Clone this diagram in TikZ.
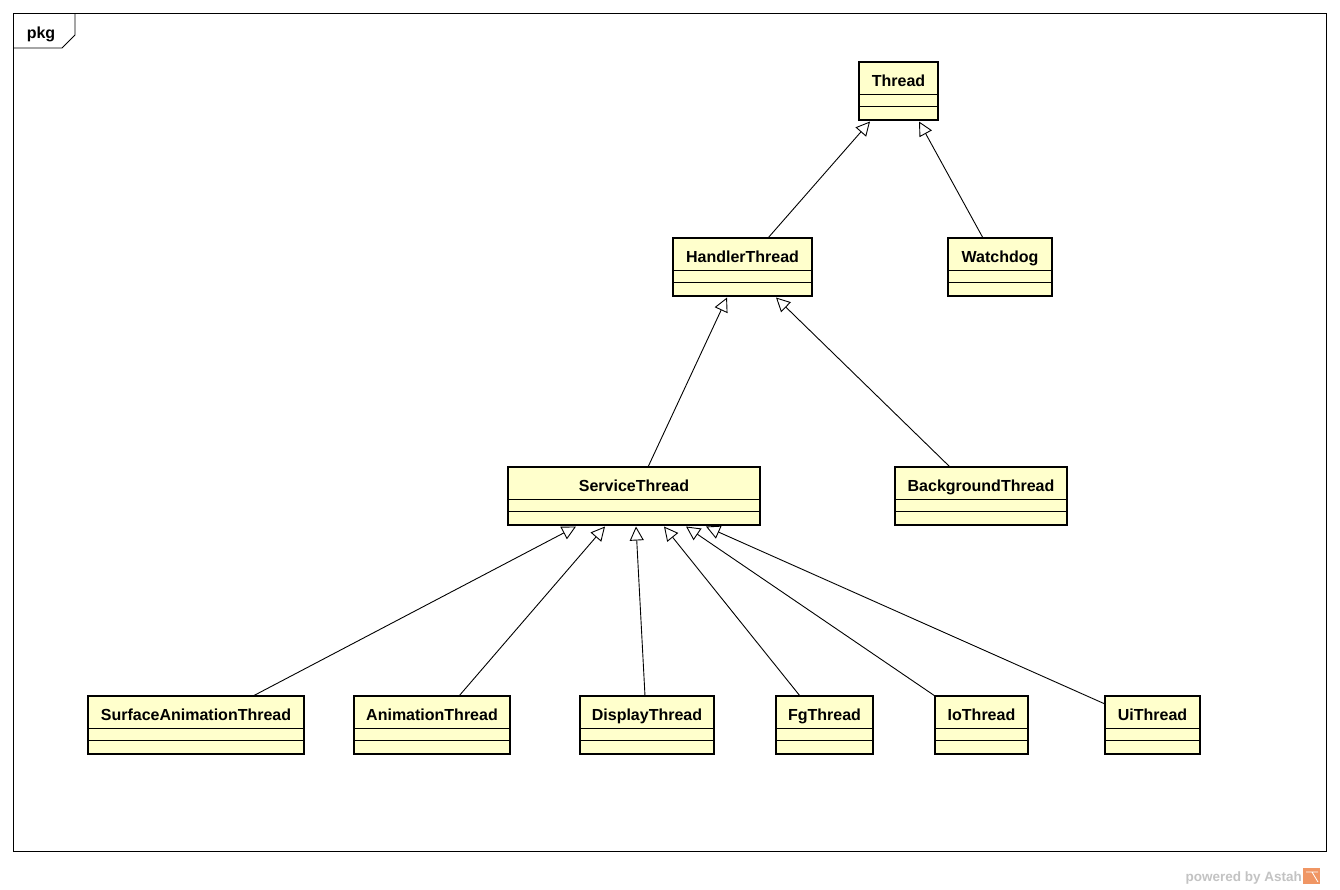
\documentclass[tikz,border=0pt]{standalone}
\usepackage{fontspec}
\setmainfont{Liberation Sans}
\usetikzlibrary{arrows.meta}
\definecolor{classfill}{RGB}{255,255,204}
\definecolor{astahgray}{RGB}{195,195,195}
\definecolor{astahorange}{RGB}{240,150,100}
\tikzset{
  cls/.style={draw=black, line width=2.8pt, fill=classfill, inner sep=0pt},
  gen/.style={draw=black, line width=0.9pt, -{Triangle[open, length=14pt, width=14pt, fill=white]}},
  lbl/.style={font=\fontsize{16}{19}\selectfont\bfseries, anchor=base, inner sep=0pt},
}
\newcommand{\umlclass}[6]{% name, text, x1, y1, x2, y2
  \draw[cls] (#3,#4) rectangle (#5,#6);
  \node[lbl] (#1) at ({(#3+#5)/2},{#4+24}) {#2};
  \draw[line width=0.9pt] (#3,{#4+32}) -- (#5,{#4+32});
  \draw[line width=0.9pt] (#3,{#4+44}) -- (#5,{#4+44});
}
\begin{document}
\begin{tikzpicture}[x=1pt,y=-1pt]
\useasboundingbox (0,0) rectangle (1340,889);
\fill[white] (0,0) rectangle (1340,889);
% frame
\draw[line width=0.9pt] (13,13) rectangle (1326,851);
\draw[line width=0.9pt] (13,48) -- (62,48) -- (75,35) -- (75,13);
\node[font=\fontsize{16}{19}\selectfont\bfseries, anchor=base, inner sep=0pt] (pkg) at (41,38) {pkg};

\umlclass{thread}{Thread}{859}{62}{938}{120}
\umlclass{handler}{HandlerThread}{673}{238}{812}{296}
\umlclass{watchdog}{Watchdog}{948}{238}{1052}{296}
\umlclass{service}{ServiceThread}{508}{467}{760}{525}
\umlclass{background}{BackgroundThread}{895}{467}{1067}{525}
\umlclass{surface}{SurfaceAnimationThread}{88}{696}{304}{754}
\umlclass{animation}{AnimationThread}{354}{696}{510}{754}
\umlclass{display}{DisplayThread}{580}{696}{714}{754}
\umlclass{fg}{FgThread}{776}{696}{873}{754}
\umlclass{io}{IoThread}{935}{696}{1028}{754}
\umlclass{ui}{UiThread}{1105}{696}{1200}{754}

% connector endpoints
\coordinate (handler-t) at (768,238);
\coordinate (thread-a) at (870,121.5);
\coordinate (watchdog-t) at (983,238);
\coordinate (thread-b) at (919,121.5);
\coordinate (service-t) at (648,467);
\coordinate (handler-a) at (727,297.5);
\coordinate (background-t) at (950,467);
\coordinate (handler-b) at (776,297.5);
\coordinate (surface-t) at (253,696);
\coordinate (service-a) at (576,526.5);
\coordinate (animation-t) at (459,696);
\coordinate (service-b) at (605,526.5);
\coordinate (display-t) at (645,696);
\coordinate (service-c) at (636,526.5);
\coordinate (fg-t) at (800,696);
\coordinate (service-d) at (664,526.5);
\coordinate (io-t) at (935,696);
\coordinate (service-e) at (686,526.5);
\coordinate (ui-t) at (1105,704);
\coordinate (service-f) at (706,526.5);

\draw[gen] (handler-t) -- (thread-a);
\draw[gen] (watchdog-t) -- (thread-b);
\draw[gen] (service-t) -- (handler-a);
\draw[gen] (background-t) -- (handler-b);
\draw[gen] (surface-t) -- (service-a);
\draw[gen] (animation-t) -- (service-b);
\draw[gen] (display-t) -- (service-c);
\draw[gen] (fg-t) -- (service-d);
\draw[gen] (io-t) -- (service-e);
\draw[gen] (ui-t) -- (service-f);

% powered by Astah
\node[font=\fontsize{13.5}{16}\selectfont\bfseries, text=astahgray, anchor=base east, inner sep=0pt] (astah) at (1302,881) {powered by Astah};
\fill[astahorange] (1303,868) rectangle (1320,884);
\draw[white, line width=0.8pt] (1306,872) -- (1318,872) (1312,872) -- (1318,882);
\end{tikzpicture}
\end{document}
